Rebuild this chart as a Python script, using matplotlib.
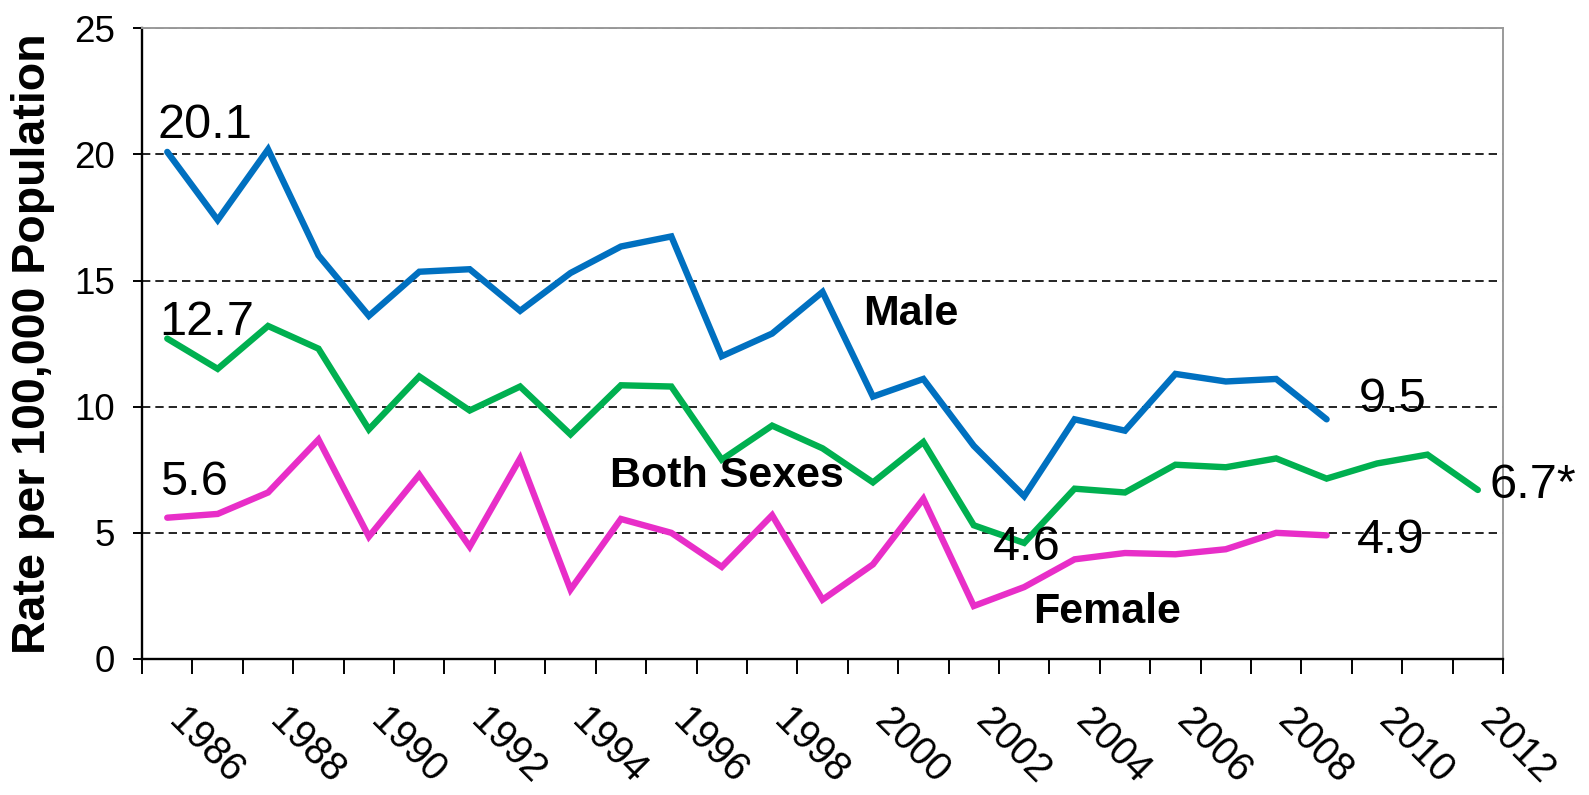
import matplotlib
matplotlib.use("Agg")
import matplotlib.pyplot as plt
from matplotlib.transforms import ScaledTranslation
import numpy as np

plt.rcParams['font.family'] = ['Liberation Sans', 'DejaVu Sans']

years = list(range(1986, 2013))
male = [20.1, 17.4, 20.2, 16.0, 13.6, 15.35, 15.45, 13.8, 15.3, 16.35, 16.75, 12.0,
        12.9, 14.55, 10.4, 11.1, 8.45, 6.45, 9.5, 9.05, 11.3, 11.0, 11.1, 9.5]
both = [12.7, 11.5, 13.2, 12.3, 9.1, 11.2, 9.85, 10.8, 8.9, 10.85, 10.8, 7.9, 9.25,
        8.35, 7.0, 8.6, 5.3, 4.6, 6.75, 6.6, 7.7, 7.6, 7.95, 7.15, 7.75, 8.1, 6.7]
female = [5.6, 5.75, 6.6, 8.7, 4.85, 7.3, 4.45, 7.95, 2.75, 5.55, 5.0, 3.65, 5.7,
          2.35, 3.75, 6.35, 2.1, 2.85, 3.95, 4.2, 4.15, 4.35, 5.0, 4.9]
tick_years = [str(y) for y in range(1986, 2013, 2)]
yticks = [0, 5, 10, 15, 20, 25]

c_male = '#0070C0'
c_both = '#00B050'
c_female = '#E82EC8'

fig = plt.figure(figsize=(15.89, 7.95), dpi=100)
ax = fig.add_axes([0.0894, 0.1711, 0.9459 - 0.0894, 0.9644 - 0.1711])

xm = np.arange(len(male))
xb = np.arange(len(both))
xf = np.arange(len(female))
ax.plot(xb, both, color=c_both, lw=4.6, solid_joinstyle='miter', solid_capstyle='round', zorder=3)
ax.plot(xm, male, color=c_male, lw=4.6, solid_joinstyle='miter', solid_capstyle='round', zorder=4)
ax.plot(xf, female, color=c_female, lw=4.6, solid_joinstyle='miter', solid_capstyle='round', zorder=3)

ax.set_xlim(-0.5, len(years) - 0.5)
ax.set_ylim(0, 25)

# grid
for v in yticks[1:]:
    ax.axhline(v, color='black', lw=1.2, linestyle=(0, (5.0, 3.0)), zorder=1)

# spines
for s in ['left', 'bottom']:
    ax.spines[s].set_color('black')
    ax.spines[s].set_linewidth(1.7)
for s in ['top', 'right']:
    ax.spines[s].set_color('#9a9a9a')
    ax.spines[s].set_linewidth(1.4)

# y axis
ax.set_yticks(yticks)
ax.set_yticklabels([str(v) for v in yticks], fontsize=26.5)
ax.tick_params(axis='y', direction='out', length=6.5, width=1.4, pad=13, colors='black')

# x axis: boundaries as minor ticks, labels at category centres
ax.set_xticks(np.arange(-0.5, len(years), 1.0), minor=True)
ax.set_xticks(np.arange(0, len(years), 2))
ax.set_xticklabels(tick_years, fontsize=28.5, rotation=-45, ha='left', va='top',
                   rotation_mode='anchor')
ax.tick_params(axis='x', which='major', length=0, pad=31)
ax.tick_params(axis='x', which='minor', direction='out', length=10.5, width=1.4)
off = ScaledTranslation(21 / 100, 0, fig.dpi_scale_trans)
for lab in ax.get_xticklabels():
    lab.set_transform(lab.get_transform() + off)

ax.set_ylabel('Rate per 100,000 Population', fontsize=33.5, fontweight='bold')
ax.yaxis.set_label_coords(-0.064, 0.5)

# value labels
vl = dict(fontsize=35, color='black', va='baseline', ha='left', clip_on=False, zorder=5)
ax.text(-0.2, 20.64, '20.1', **vl)
ax.text(-0.15, 12.84, '12.7', **vl)
ax.text(-0.15, 6.50, '5.6', **vl)
ax.text(23.63, 9.80, '9.5', **vl)
ax.text(23.61, 4.19, '4.9', **vl)
ax.text(16.37, 3.92, '4.6', **vl)
ax.text(26.24, 6.37, '6.7*', **vl)

# series labels
sl = dict(fontsize=31, fontweight='bold', color='black', va='baseline', ha='left', zorder=5)
ax.text(13.8, 13.24, 'Male', **sl)
ax.text(8.78, 6.80, 'Both Sexes', **sl)
ax.text(17.18, 1.41, 'Female', **sl)

fig.savefig('out.png', dpi=100)
